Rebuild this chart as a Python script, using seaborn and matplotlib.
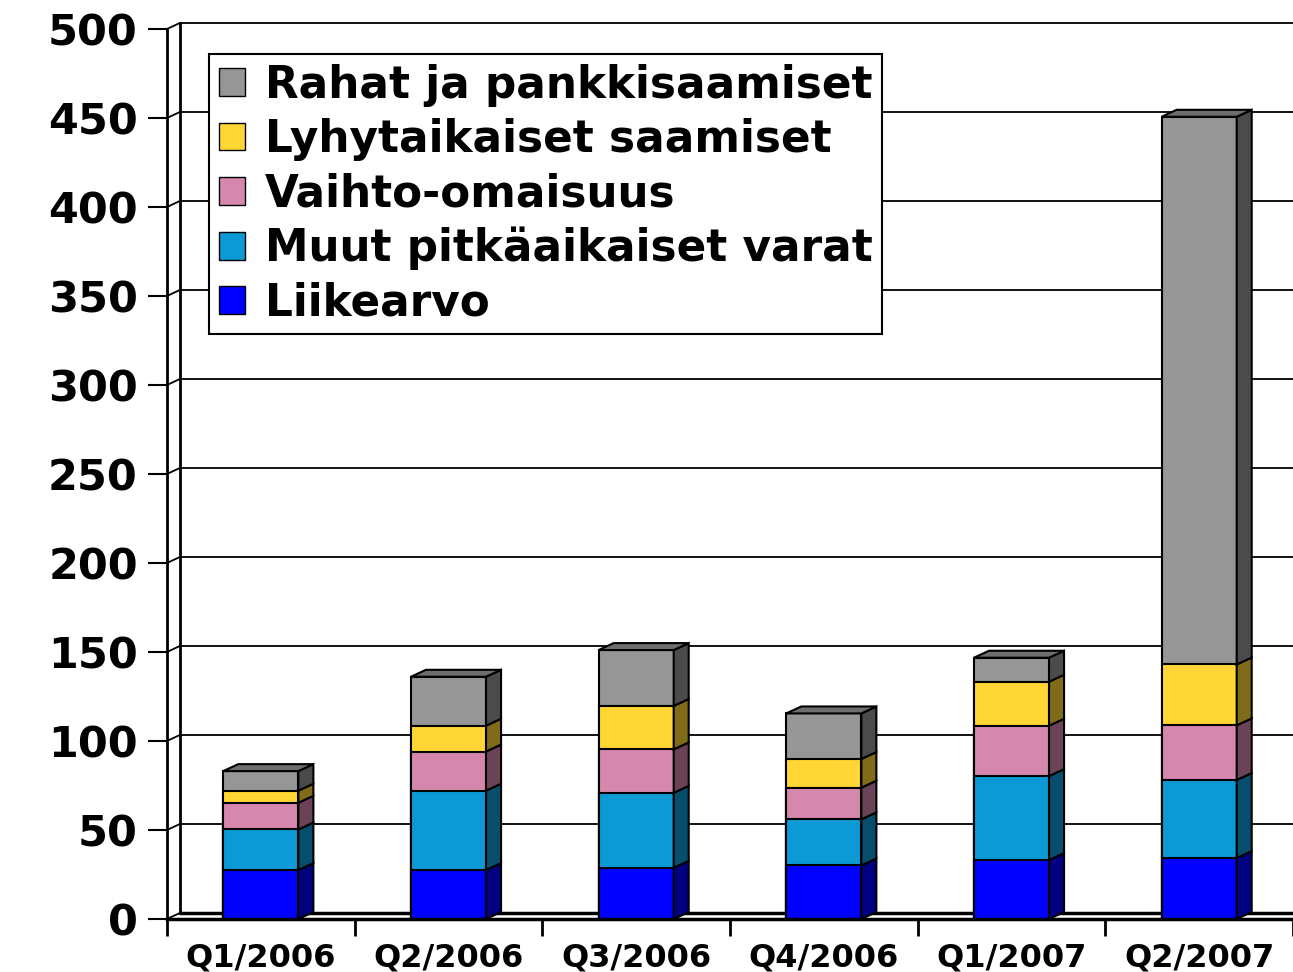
import matplotlib
matplotlib.use("Agg")
import matplotlib.pyplot as plt  # piirtäminen
import seaborn as sns            # pylväät
import numpy as np
from matplotlib.patches import Patch

# Data (milj. euroa), luettu kuvasta
kvartaalit = ["Q1/2006", "Q2/2006", "Q3/2006", "Q4/2006", "Q1/2007", "Q2/2007"]
liikearvo = [27.5, 27.5, 28.8, 30.1, 33.1, 34.3]
muut_pitkaaikaiset = [22.8, 44.6, 42.1, 25.9, 47.2, 43.8]
vaihto_omaisuus = [15.0, 22.0, 24.4, 17.8, 28.3, 30.7]
lyhytaikaiset = [6.8, 14.5, 24.4, 16.1, 24.7, 34.2]
rahat = [11.0, 27.5, 31.4, 25.6, 13.5, 307.7]

sarjat = ["Liikearvo", "Muut pitkäaikaiset varat", "Vaihto-omaisuus",
          "Lyhytaikaiset saamiset", "Rahat ja pankkisaamiset"]
etuvarit = ["#0000FF", "#0C9AD6", "#D687AE", "#FFD633", "#969696"]
sivuvarit = ["#000080", "#064E6B", "#6B4357", "#806B19", "#4B4B4B"]
kansivari = "#6E6E6E"

sns.set_theme(style="white")
plt.rcParams["font.family"] = ["DejaVu Sans"]
plt.rcParams["font.weight"] = "bold"
plt.rcParams.update({"text.color": "black", "xtick.color": "black",
                     "ytick.color": "black", "axes.labelcolor": "black"})

arvot = np.array([liikearvo, muut_pitkaaikaiset, vaihto_omaisuus, lyhytaikaiset, rahat])
kertyma = np.cumsum(arvot, axis=0)

fig = plt.figure(figsize=(12.93, 9.72), dpi=100)
ax = fig.add_axes([167 / 1293, 53 / 972, 1 - 167 / 1293, 890 / 972])

leveys = 0.4
syv_x, syv_y = 0.08, 3.9     # pylvään syvyys
sein_x, sein_y = 0.069, 3.4  # takaseinän syvyys

# etupinnat: korkein ensin, sitten päälle pienemmät kertymät
for i in reversed(range(len(sarjat))):
    sns.barplot(x=kvartaalit, y=kertyma[i], color=etuvarit[i], saturation=1,
                width=leveys, edgecolor="black", linewidth=1.5, ax=ax, zorder=3)

# sivu- ja kansipinnat
for j in range(len(kvartaalit)):
    xr = j + leveys / 2
    xl = j - leveys / 2
    ala = 0
    for i in range(len(sarjat)):
        yla = kertyma[i][j]
        ax.fill([xr, xr + syv_x, xr + syv_x, xr],
                [ala, ala + syv_y, yla + syv_y, yla],
                facecolor=sivuvarit[i], edgecolor="black", linewidth=1.5, zorder=3)
        ala = yla
    ax.fill([xl, xl + syv_x, xr + syv_x, xr], [ala, ala + syv_y, ala + syv_y, ala],
            facecolor=kansivari, edgecolor="black", linewidth=1.5, zorder=3)

ax.set_xlim(-0.5, 5.5)
ax.set_ylim(0, 500)
yt = np.arange(0, 501, 50)
ax.set_yticks(yt)
ax.set_yticklabels([str(v) for v in yt], fontsize=31, fontweight="bold", color="black")
ax.set_xticks(range(len(kvartaalit)))
ax.set_xticklabels(kvartaalit, fontsize=23, fontweight="bold", color="black")
ax.set_xticks(np.arange(-0.5, 5.6, 1), minor=True)
ax.tick_params(axis="y", left=True, length=14, width=1.5, pad=7, color="black")
ax.tick_params(axis="x", which="major", bottom=True, length=0, pad=17)
ax.tick_params(axis="x", which="minor", bottom=True, length=12, width=2, color="black")

for s in ["top", "right"]:
    ax.spines[s].set_visible(False)
ax.spines["left"].set_color("black")
ax.spines["left"].set_linewidth(2)
ax.spines["bottom"].set_color("black")
ax.spines["bottom"].set_linewidth(2.5)
ax.spines["bottom"].set_zorder(4)

# takaseinä, sivuseinä ja lattia
x0 = -0.5
for v in yt:
    ax.plot([x0 + sein_x, 5.5], [v + sein_y, v + sein_y], color="black",
            linewidth=1.3 if v > 0 else 2.5, zorder=1, clip_on=False)
    ax.plot([x0, x0 + sein_x], [v, v + sein_y], color="black", linewidth=1.3,
            zorder=1, clip_on=False)
ax.plot([x0 + sein_x, x0 + sein_x], [sein_y, 500 + sein_y], color="black",
        linewidth=2, zorder=1, clip_on=False)

# selite
kahvat = [Patch(facecolor=etuvarit[i], edgecolor="black", linewidth=1)
          for i in reversed(range(len(sarjat)))]
selite = fig.legend(kahvat, list(reversed(sarjat)), loc="upper left",
                    bbox_to_anchor=(209 / 1293, 1 - 54 / 972), borderaxespad=0,
                    prop={"size": 31.5, "weight": "bold"}, frameon=True, fancybox=False,
                    framealpha=1, edgecolor="black", handlelength=0.6, handleheight=0.6,
                    handletextpad=0.45, labelspacing=0.26, borderpad=0.22)
selite.get_frame().set_linewidth(1.5)
for t in selite.get_texts():
    t.set_color("black")

ax.set_xlabel("")
ax.set_ylabel("")
fig.savefig("out.png", dpi=100)
